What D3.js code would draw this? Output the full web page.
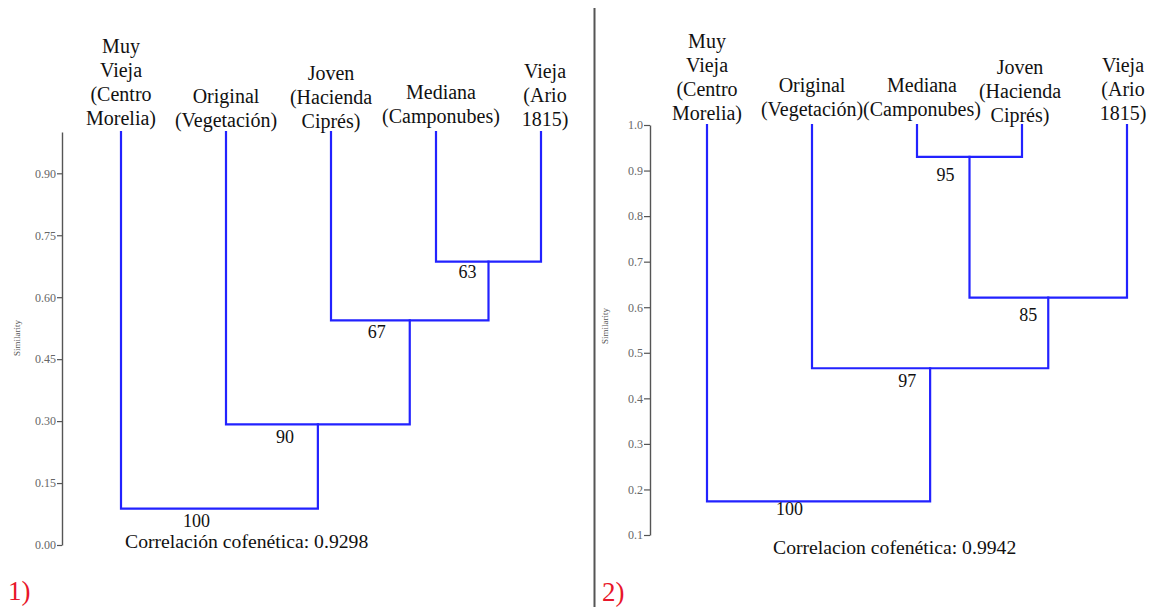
<!DOCTYPE html>
<html>
<head>
<meta charset="utf-8">
<script src="https://cdn.jsdelivr.net/npm/d3@7"></script>
<style>
  html, body { margin: 0; padding: 0; background: #ffffff; }
  svg { display: block; }
  text { font-family: "Liberation Serif", "Times New Roman", Times, serif; }
</style>
</head>
<body>
<svg id="chart" width="1162" height="607"></svg>
<script>
// ---- Panel 1: UPGMA dendrogram ----
const leavesA = [
  ["Muy", "Vieja", "(Centro", "Morelia)"],
  ["Original", "(Vegetación)"],
  ["Joven", "(Hacienda", "Ciprés)"],
  ["Mediana", "(Camponubes)"],
  ["Vieja", "(Ario", "1815)"]
];
// merge pairs: indices < 5 are leaves, >= 5 are earlier clusters
const mergesA = [[3, 4], [2, 5], [1, 6], [0, 7]];
const similarityA = [0.686, 0.544, 0.292, 0.088];
const bootstrapA = [63, 67, 90, 100];
const ticksA = [0.00, 0.15, 0.30, 0.45, 0.60, 0.75, 0.90];
const cophenetA = "Correlación cofenética: 0.9298";

// ---- Panel 2 ----
const leavesB = [
  ["Muy", "Vieja", "(Centro", "Morelia)"],
  ["Original", "(Vegetación)"],
  ["Mediana", "(Camponubes)"],
  ["Joven", "(Hacienda", "Ciprés)"],
  ["Vieja", "(Ario", "1815)"]
];
const mergesB = [[2, 3], [5, 4], [1, 6], [0, 7]];
const similarityB = [0.930, 0.621, 0.466, 0.174];
const bootstrapB = [95, 85, 97, 100];
const ticksB = [0.1, 0.2, 0.3, 0.4, 0.5, 0.6, 0.7, 0.8, 0.9, 1.0];
const cophenetB = "Correlacion cofenética: 0.9942";

// ---- layout ----
const panels = [
  {
    leaves: leavesA, merges: mergesA, sim: similarityA, boot: bootstrapA,
    ticks: ticksA, fmt: ".2f", coph: cophenetA, tag: "1)",
    xRange: [121, 541], yDomain: [0, 1], yRange: [545, 132],
    axisX: 62, tickLen: 5,
    leafBase: [125, 127, 128, 123, 126], leafShift: [0, 0, 0, 5, 4],
    labelNudge: [[-21, 16], [-33, 18], [-33, 19], [-23, 18]],
    simLabel: [20, 338], cophPos: [125, 548], tagPos: [8, 600]
  },
  {
    leaves: leavesB, merges: mergesB, sim: similarityB, boot: bootstrapB,
    ticks: ticksB, fmt: ".1f", coph: cophenetB, tag: "2)",
    xRange: [707, 1127], yDomain: [0.1, 1.0], yRange: [535, 125],
    axisX: 650, tickLen: 6,
    leafBase: [120, 116, 116, 122, 120], leafShift: [0, 0, 5, -2, -4],
    labelNudge: [[-24, 24], [-20, 23], [-23, 19], [-29, 14]],
    simLabel: [608, 326], cophPos: [773, 554], tagPos: [602, 601]
  }
];

const svg = d3.select("#chart");
svg.append("rect").attr("width", 1162).attr("height", 607).attr("fill", "#ffffff");

// separator between the two panels
svg.append("line")
  .attr("x1", 594.5).attr("x2", 594.5).attr("y1", 8).attr("y2", 607)
  .attr("stroke", "#555").attr("stroke-width", 2);

const lineColor = "#2222ff";
const lineHeight = 24;

panels.forEach(p => {
  const g = svg.append("g");
  const x = d3.scalePoint().domain(d3.range(p.leaves.length)).range(p.xRange);
  const y = d3.scaleLinear().domain(p.yDomain).range(p.yRange);

  // similarity axis
  const axis = d3.axisLeft(y)
    .tickValues(p.ticks)
    .tickFormat(d3.format(p.fmt))
    .tickSize(p.tickLen)
    .tickSizeOuter(0)
    .tickPadding(1);
  const ag = g.append("g").attr("transform", `translate(${p.axisX},0)`).call(axis);
  ag.select(".domain").attr("stroke", "#555").attr("stroke-width", 1.4);
  ag.selectAll(".tick line").attr("stroke", "#555").attr("stroke-width", 1.2);
  ag.selectAll(".tick text")
    .attr("fill", "#666")
    .style("font-family", "'Liberation Serif', serif")
    .style("font-size", "12px");

  g.append("text")
    .attr("transform", `translate(${p.simLabel[0]},${p.simLabel[1]}) rotate(-90)`)
    .attr("text-anchor", "middle")
    .attr("fill", "#555")
    .style("font-size", "9px")
    .text("Similarity");

  // leaves start at full similarity
  const nodes = p.leaves.map((_, i) => ({ x: x(i), y: y(1.0) }));

  // leaf labels
  p.leaves.forEach((lines, i) => {
    const t = g.append("text")
      .attr("text-anchor", "middle")
      .attr("fill", "#111")
      .style("font-size", "20px");
    lines.forEach((ln, j) => {
      t.append("tspan")
        .attr("x", x(i) + p.leafShift[i])
        .attr("y", p.leafBase[i] - (lines.length - 1 - j) * lineHeight)
        .text(ln);
    });
  });

  // clusters
  p.merges.forEach((m, k) => {
    const a = nodes[m[0]], b = nodes[m[1]];
    const yy = y(p.sim[k]);
    g.append("path")
      .attr("d", `M${a.x},${a.y}V${yy}H${b.x}V${b.y}`)
      .attr("fill", "none")
      .attr("stroke", lineColor)
      .attr("stroke-width", 2.2)
      .attr("stroke-linecap", "square");
    const node = { x: (a.x + b.x) / 2, y: yy };
    nodes.push(node);
    g.append("text")
      .attr("x", node.x + p.labelNudge[k][0])
      .attr("y", node.y + p.labelNudge[k][1])
      .attr("text-anchor", "middle")
      .attr("fill", "#111")
      .style("font-size", "18px")
      .text(p.boot[k]);
  });

  g.append("text")
    .attr("x", p.cophPos[0]).attr("y", p.cophPos[1])
    .attr("fill", "#111")
    .style("font-size", "19.7px")
    .text(p.coph);

  g.append("text")
    .attr("x", p.tagPos[0]).attr("y", p.tagPos[1])
    .attr("fill", "#e8162a")
    .style("font-size", "27px")
    .text(p.tag);
});
</script>
</body>
</html>
